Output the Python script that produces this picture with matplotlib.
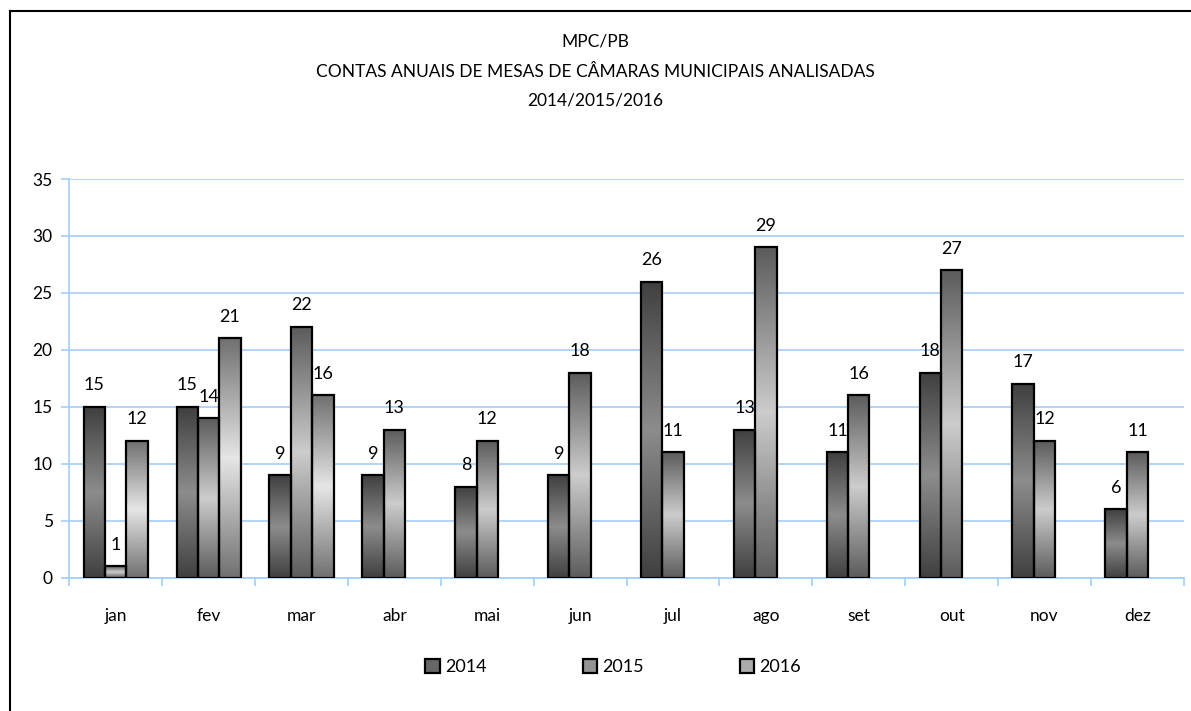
import numpy as np
import matplotlib.pyplot as plt
from matplotlib.lines import Line2D
from matplotlib.patches import Patch

plt.rcParams['font.family'] = ['Lato', 'DejaVu Sans']

months = ['jan', 'fev', 'mar', 'abr', 'mai', 'jun', 'jul', 'ago', 'set', 'out', 'nov', 'dez']
v2014 = [15, 15, 9, 9, 8, 9, 26, 13, 11, 18, 17, 6]
v2015 = [1, 14, 22, 13, 12, 18, 11, 29, 16, 27, 12, 11]
v2016 = [12, 21, 16, None, None, None, None, None, None, None, None, None]

series = [('2014', v2014), ('2015', v2015), ('2016', v2016)]
# (dark edge gray, light centre gray) for each series gradient
shades = {'2014': (0.25, 0.55), '2015': (0.36, 0.80), '2016': (0.44, 0.90)}
grid_blue = '#a4cdf7'

fig = plt.figure(figsize=(11.91, 7.11), dpi=100)
ax = fig.add_axes([0.0582, 0.1875, 0.9358, 0.5607])

x = np.arange(len(months))
w = 0.23
t = np.linspace(0, 1, 200)
profile = 1 - np.abs(2 * t - 1)

for i, (name, vals) in enumerate(series):
    dark, light = shades[name]
    grad = (dark + (light - dark) * profile)[:, None]
    for xi, v in zip(x, vals):
        if v is None:
            continue
        left = xi + (i - 1) * w - w / 2
        rect = ax.bar(left, v, width=w, align='edge', facecolor='none',
                      edgecolor='black', linewidth=1.6, zorder=3)[0]
        im = ax.imshow(grad, extent=[left, left + w, 0, v], aspect='auto',
                       cmap='gray', vmin=0, vmax=1, zorder=2, interpolation='bilinear')
        im.set_clip_path(rect)
        ax.text(xi + (i - 1) * w, v + 1.9, str(v), ha='center', va='center',
                fontsize=13, color='black', zorder=4)

ax.set_xlim(-0.5, len(months) - 0.5)
ax.set_ylim(0, 35)
ax.set_yticks(range(0, 36, 5))
ax.set_xticks(x)
ax.set_xticklabels(months)
ax.set_xticks(np.arange(-0.5, len(months), 1), minor=True)
ax.tick_params(axis='x', which='major', length=0, pad=22, labelsize=12.5)
ax.tick_params(axis='x', which='minor', length=6, color=grid_blue, width=1.2)
ax.tick_params(axis='y', length=6, color=grid_blue, width=1.2, labelsize=12.5, pad=6)
ax.grid(axis='y', color=grid_blue, linewidth=1.2, zorder=0)
ax.set_axisbelow(True)
for s in ['top', 'right']:
    ax.spines[s].set_visible(False)
for s in ['left', 'bottom']:
    ax.spines[s].set_color(grid_blue)
    ax.spines[s].set_linewidth(1.2)

fig.text(0.5, 0.941, 'MPC/PB', ha='center', va='center', fontsize=12.5)
fig.text(0.5, 0.899, 'CONTAS ANUAIS DE MESAS DE CÂMARAS MUNICIPAIS ANALISADAS',
         ha='center', va='center', fontsize=12.5)
fig.text(0.5, 0.858, '2014/2015/2016', ha='center', va='center', fontsize=12.5)

handles = [Patch(facecolor=str((shades[n][0] + shades[n][1]) / 2), edgecolor='black',
                 linewidth=1.6, label=n) for n, _ in series]
fig.legend(handles=handles, loc='center', bbox_to_anchor=(0.515, 0.062), ncol=3,
           frameon=False, fontsize=13, handlelength=0.8, handleheight=0.8,
           handletextpad=0.3, columnspacing=5.3)

# chart frame (only left and top edges visible)
fig.add_artist(Line2D([0.0080, 0.0080], [0, 0.985], transform=fig.transFigure,
                      color='black', linewidth=1.5))
fig.add_artist(Line2D([0.0080, 1.0], [0.985, 0.985], transform=fig.transFigure,
                      color='black', linewidth=1.5))

fig.savefig('out.png', dpi=100)
